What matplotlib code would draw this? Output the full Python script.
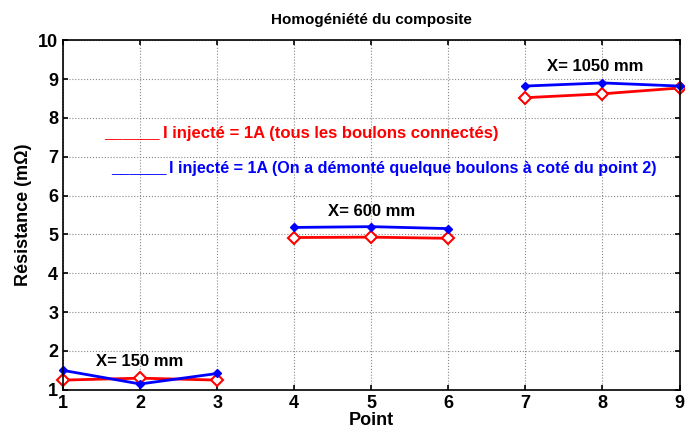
import numpy as np
import matplotlib.pyplot as plt

plt.rcParams['font.family'] = ['Liberation Sans', 'DejaVu Sans']
plt.rcParams['font.weight'] = 'bold'

points = [1, 2, 3, 4, 5, 6, 7, 8, 9]
# resistance (mOhm), three groups of 3 points
r_rouge = [1.25, 1.3, 1.25, 4.92, 4.93, 4.9, 8.52, 8.62, 8.77]
r_bleu = [1.5, 1.15, 1.42, 5.18, 5.2, 5.15, 8.82, 8.9, 8.82]
groupes = ["X= 150 mm", "X= 600 mm", "X= 1050 mm"]

fig = plt.figure(figsize=(6.85, 4.37), dpi=100)
ax = fig.add_axes([0.092, 0.108, 0.9, 0.8])

for g in range(3):
    s = slice(3 * g, 3 * g + 3)
    ax.plot(points[s], r_rouge[s], color="red", lw=2, marker="D", ms=6,
            mfc="white", mec="red", mew=1.5, clip_on=False)
    ax.plot(points[s], r_bleu[s], color="blue", lw=2, marker="D", ms=4,
            mfc="blue", mec="blue", clip_on=False)

ax.text(2.0, 1.72, groupes[0], ha="center", va="center", fontsize=12, fontweight="bold")
ax.text(5.0, 5.6, groupes[1], ha="center", va="center", fontsize=12, fontweight="bold")
ax.text(7.9, 9.32, groupes[2], ha="center", va="center", fontsize=12, fontweight="bold")

ax.text(1.53, 7.6, "______", color="red", fontsize=12, fontweight="bold", va="center")
ax.text(2.3, 7.6, "I injecté = 1A (tous les boulons connectés)",
        color="red", fontsize=12, fontweight="bold", va="center")
ax.text(1.63, 6.7, "______", color="blue", fontsize=12, fontweight="bold", va="center")
ax.text(2.38, 6.7, "I injecté = 1A (On a démonté quelque boulons à coté du point 2)",
        color="blue", fontsize=11.6, fontweight="bold", va="center")

ax.set_xlim(1, 9)
ax.set_ylim(1, 10)
ax.set_xticks(points)
ax.set_yticks(range(1, 11))
ax.grid(True, linestyle=":", color="#888888", lw=0.8)
ax.tick_params(labelsize=13, direction="in", right=True, top=True, width=1.2)
for sp in ax.spines.values():
    sp.set_linewidth(1.2)
ax.set_title("Homogéniété du composite", fontsize=11, fontweight="bold", pad=12)
ax.set_xlabel("Point", fontsize=13, fontweight="bold", labelpad=0)
ax.set_ylabel("Résistance (mΩ)", fontsize=13, fontweight="bold")

fig.savefig("out.png")
